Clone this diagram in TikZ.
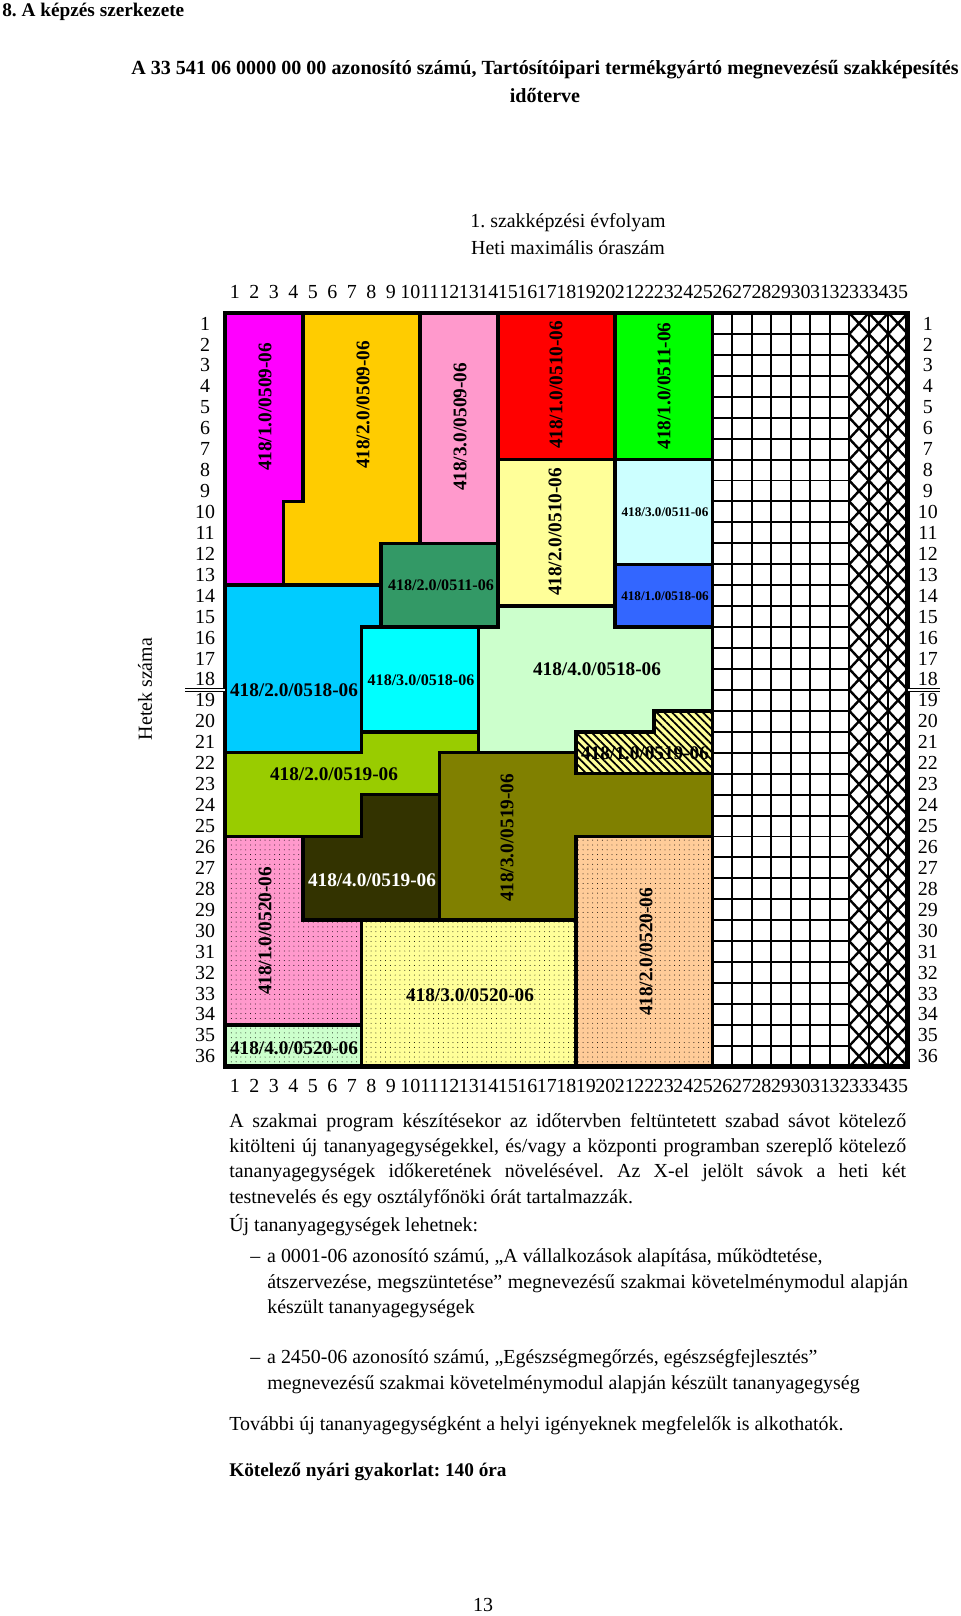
\documentclass[tikz,border=0pt]{standalone}
\usepackage{fontspec}
\setmainfont{Liberation Serif}
\usetikzlibrary{patterns.meta}
\frenchspacing

% module colours
\definecolor{modmagenta}{HTML}{FF00FF}
\definecolor{modorange}{HTML}{FFCC00}
\definecolor{modpink}{HTML}{FF99CC}
\definecolor{modred}{HTML}{FF0000}
\definecolor{modgreen}{HTML}{00FF00}
\definecolor{modlyellow}{HTML}{FFFF99}
\definecolor{modlcyan}{HTML}{CCFFFF}
\definecolor{modseagreen}{HTML}{339966}
\definecolor{modblue}{HTML}{3366FF}
\definecolor{modsky}{HTML}{00CCFF}
\definecolor{modcyan}{HTML}{00FFFF}
\definecolor{modlgreen}{HTML}{CCFFCC}
\definecolor{modygreen}{HTML}{99CC00}
\definecolor{modolive}{HTML}{808000}
\definecolor{moddark}{HTML}{333300}
\definecolor{modpeach}{HTML}{FFCC99}

\begin{document}
\begin{tikzpicture}[x=0.021875cm,y=-0.021875cm,
    every node/.style={inner sep=0pt,font=\fontsize{12.4}{14}\selectfont},
    blk/.style={draw=black,line width=2.2pt,line join=miter},
    dotblk/.style={blk,pattern={Dots[radius=0.3pt,distance=3pt]},pattern color=black},
    lbl/.style={font=\fontsize{12}{14}\selectfont\bfseries},
    vlbl/.style={lbl,rotate=90},
    midlbl/.style={font=\fontsize{10}{12}\selectfont\bfseries},
    smalllbl/.style={font=\fontsize{8.2}{10}\selectfont\bfseries},
    thinline/.style={line width=1.2pt},
    xline/.style={line width=1.5pt}]
  \useasboundingbox (0,0) rectangle (960,1616);

  % headings
  \node[anchor=west,lbl] (fejezet) at (2,12) {8. A képzés szerkezete};
  \node[lbl,font=\fontsize{12.5}{14}\selectfont\bfseries] (cim1) at (545,70) {A 33 541 06 0000 00 00 azonosító számú, Tartósítóipari termékgyártó megnevezésű szakképesítés};
  \node[lbl,font=\fontsize{12.5}{14}\selectfont\bfseries] (cim2) at (545,96) {időterve};
  \node (evf) at (568,223) {1. szakképzési évfolyam};
  \node (heti) at (568,248) {Heti maximális óraszám};
  \node[rotate=90] (hetek) at (145,689) {Hetek száma};

  % the grid: one unit = one hour (x) and one week (y)
  \begin{scope}[shift={(225,313)},x=0.42687cm,y=-0.45816cm]
    % modules
    \draw[blk,fill=modmagenta] (0,0) -- (4,0) -- (4,9) -- (3,9) -- (3,13) -- (0,13) -- cycle;
    \draw[blk,fill=modorange] (4,0) -- (10,0) -- (10,11) -- (8,11) -- (8,13) -- (3,13) -- (3,9) -- (4,9) -- cycle;
    \draw[blk,fill=modpink] (10,0) rectangle (14,11);
    \draw[blk,fill=modred] (14,0) rectangle (20,7);
    \draw[blk,fill=modgreen] (20,0) rectangle (25,7);
    \draw[blk,fill=modlyellow] (14,7) rectangle (20,14);
    \draw[blk,fill=modlcyan] (20,7) rectangle (25,12);
    \draw[blk,fill=modseagreen] (8,11) rectangle (14,15);
    \draw[blk,fill=modblue] (20,12) rectangle (25,15);
    \draw[blk,fill=modsky] (0,13) -- (8,13) -- (8,15) -- (7,15) -- (7,21) -- (0,21) -- cycle;
    \draw[blk,fill=modcyan] (7,15) rectangle (13,20);
    \draw[blk,fill=modlgreen] (14,14) -- (20,14) -- (20,15) -- (25,15) -- (25,19) -- (22,19) -- (22,20)
      -- (18,20) -- (18,21) -- (13,21) -- (13,15) -- (14,15) -- cycle;
    \draw[blk,fill=modygreen] (7,20) -- (13,20) -- (13,21) -- (11,21) -- (11,23) -- (7,23) -- (7,25)
      -- (0,25) -- (0,21) -- (7,21) -- cycle;
    \draw[blk,fill=modolive] (11,21) -- (18,21) -- (18,22) -- (25,22) -- (25,25) -- (18,25) -- (18,29)
      -- (11,29) -- cycle;
    \draw[blk,fill=modlyellow] (22,19) -- (25,19) -- (25,22) -- (18,22) -- (18,20) -- (22,20) -- cycle;
    \draw[blk,fill=moddark] (7,23) -- (11,23) -- (11,29) -- (4,29) -- (4,25) -- (7,25) -- cycle;
    \draw[dotblk,preaction={fill=modpink}] (0,25) -- (4,25) -- (4,29) -- (7,29) -- (7,34) -- (0,34) -- cycle;
    \draw[dotblk,preaction={fill=modlgreen}] (0,34) rectangle (7,36);
    \draw[dotblk,preaction={fill=modlyellow}] (7,29) rectangle (18,36);
    \draw[dotblk,preaction={fill=modpeach}] (18,25) rectangle (25,36);

    % free hours
    \foreach \c in {26,...,31}
      \draw[thinline] (\c,0) -- (\c,36);
    \foreach \r in {1,...,35}
      \draw[thinline] (25,\r) -- (32,\r);
    % PE and form tutor hours
    \foreach \c in {32,33,34} {
      \draw[thinline] (\c,0) -- (\c,36);
      \foreach \r in {0,...,35}
        \draw[xline] (\c,\r) -- (\c+1,\r+1) (\c+1,\r) -- (\c,\r+1);
    }
    \draw[blk] (25,0) -- (25,36);
    \draw[line width=3pt] (0,0) rectangle (35,36);

    % numbering
    \foreach \i in {1,...,35} {
      \node (ftop\i) at (\i-0.5,-1) {\i};
      \node (fbot\i) at (\i-0.5,36.9) {\i};
    }
    \foreach \i in {1,...,36} {
      \node (hbal\i) at (-1.02,\i-0.5) {\i};
      \node (hjobb\i) at (36.03,\i-0.5) {\i};
    }
    \coordinate (ketbal) at (-2.05,18);
    \coordinate (ketjobb) at (36.64,18);
    \draw[double,double distance=1.3pt,line width=0.6pt] (ketbal) -- (0,18);
    \draw[double,double distance=1.3pt,line width=0.6pt] (35,18) -- (ketjobb);
  \end{scope}

  % module names
  \node[vlbl] (m1) at (265,407) {418/1.0/0509-06};
  \node[vlbl] (m2) at (363,405) {418/2.0/0509-06};
  \node[vlbl] (m3) at (460,427) {418/3.0/0509-06};
  \node[vlbl] (m4) at (556,385) {418/1.0/0510-06};
  \node[vlbl] (m5) at (555,532) {418/2.0/0510-06};
  \node[vlbl] (m6) at (664,386) {418/1.0/0511-06};
  \node[midlbl] (m7) at (441,585) {418/2.0/0511-06};
  \node[smalllbl] (m8) at (665,512) {418/3.0/0511-06};
  \node[smalllbl] (m9) at (665,596) {418/1.0/0518-06};
  \node[lbl] (m10) at (294,690) {418/2.0/0518-06};
  \node[midlbl] (m11) at (421,680) {418/3.0/0518-06};
  \node[lbl] (m12) at (597,669) {418/4.0/0518-06};
  \node[lbl] (m13) at (645,753) {418/1.0/0519-06};
  \node[lbl] (m14) at (334,774) {418/2.0/0519-06};
  \node[vlbl] (m15) at (507,838) {418/3.0/0519-06};
  \node[lbl,text=white] (m16) at (372,880) {418/4.0/0519-06};
  \node[vlbl] (m17) at (265,931) {418/1.0/0520-06};
  \node[lbl] (m18) at (294,1048) {418/4.0/0520-06};
  \node[lbl] (m19) at (470,995) {418/3.0/0520-06};
  \node[vlbl] (m20) at (646,952) {418/2.0/0520-06};

  % hatching over 418/1.0/0519-06
  \begin{scope}[shift={(225,313)},x=0.42687cm,y=-0.45816cm]
    \draw[blk,pattern={Lines[angle=-45,distance=3.4pt,line width=1.1pt]},pattern color=black]
      (22,19) -- (25,19) -- (25,22) -- (18,22) -- (18,20) -- (22,20) -- cycle;
  \end{scope}

  % notes
  \node[anchor=west] (t1) at (229,1123) {\makebox[14.81cm][s]{A szakmai program készítésekor az időtervben feltüntetett szabad sávot kötelező}};
  \node[anchor=west] (t2) at (229,1148) {\makebox[14.81cm][s]{kitölteni új tananyagegységekkel, és/vagy a központi programban szereplő kötelező}};
  \node[anchor=west] (t3) at (229,1173) {\makebox[14.81cm][s]{tananyagegységek időkeretének növelésével. Az X-el jelölt sávok a heti két}};
  \node[anchor=west] (t4) at (229,1199) {testnevelés és egy osztályfőnöki órát tartalmazzák.};
  \node[anchor=west] (t5) at (229,1225) {Új tananyagegységek lehetnek:};
  \node[anchor=west] (t6) at (250,1258) {\makebox[0.37cm][l]{–}a 0001-06 azonosító számú, „A vállalkozások alapítása, működtetése,};
  \node[anchor=west] (t7) at (267,1284) {\makebox[14.02cm][s]{átszervezése, megszüntetése” megnevezésű szakmai követelménymodul alapján}};
  \node[anchor=west] (t8) at (267,1309) {készült tananyagegységek};
  \node[anchor=west] (t9) at (250,1359) {\makebox[0.37cm][l]{–}a 2450-06 azonosító számú, „Egészségmegőrzés, egészségfejlesztés”};
  \node[anchor=west] (t10) at (267,1385) {megnevezésű szakmai követelménymodul alapján készült tananyagegység};
  \node[anchor=west] (t11) at (229,1426) {További új tananyagegységként a helyi igényeknek megfelelők is alkothatók.};
  \node[anchor=west,lbl] (t12) at (229,1472) {Kötelező nyári gyakorlat: 140 óra};
  \node (oldal) at (483,1605) {13};
\end{tikzpicture}
\end{document}
